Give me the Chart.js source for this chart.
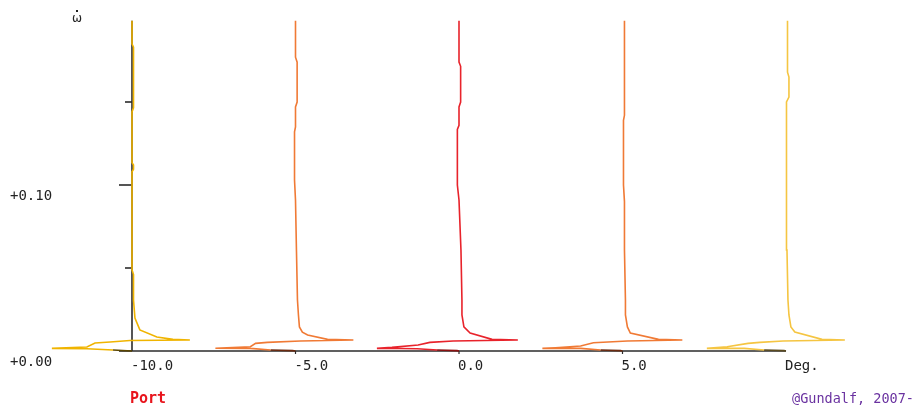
<!DOCTYPE html>
<html>
<head>
<meta charset="utf-8">
<title>Rate of turn vs rudder angle</title>
<script src="https://cdn.jsdelivr.net/npm/chart.js@4.4.1/dist/chart.umd.min.js"></script>
<style>
  html, body { margin: 0; padding: 0; background: #fff; overflow: hidden; }
  #wrap { position: relative; width: 924px; height: 409px; }
</style>
</head>
<body>
<div id="wrap"><canvas id="rotChart"></canvas></div>
<script>
/* =============================== */
/* Data: rudder angle (deg) and turn-rate tracks [offset deg, omega dot] */
/* =============================== */
const rudderAngles = [-10, -5, 0, 5, 10];

const trackM10 = [[0,0],[-0.58,0.0006],[-1.38,0.0014],[-2.45,0.0016],[-1.38,0.0024],[-1.13,0.0048],[-0.67,0.0054],[-0.06,0.0063],[1.77,0.0066],[1.25,0.0070],[0.76,0.0084],[0.24,0.0127],[0.09,0.0199],[0.046,0.0307],[0.046,0.046],[0,0.049],[0,0.108],[0.046,0.1095],[0.046,0.112],[0,0.1135],[0,0.144],[0.046,0.1465],[0.046,0.183],[0,0.185],[0,0.199]];
const trackM5 = [[0,0],[-0.09,0.0002],[-0.76,0.0006],[-1.38,0.0016],[-2.45,0.0017],[-2.1,0.0019],[-1.38,0.0026],[-1.22,0.0046],[-0.86,0.0052],[0.15,0.0060],[1.77,0.0066],[0.98,0.0070],[0.37,0.0096],[0.21,0.0114],[0.12,0.0145],[0.09,0.0217],[0.06,0.0307],[0.03,0.06],[0,0.091],[-0.03,0.103],[-0.03,0.132],[0,0.135],[0,0.147],[0.05,0.150],[0.05,0.174],[0,0.177],[0,0.199]];
const track0 = [[0,0],[-0.06,0.0002],[-0.67,0.0006],[-1.28,0.0014],[-1.83,0.0015],[-2.51,0.0016],[-2.05,0.0022],[-1.25,0.0036],[-0.89,0.0052],[-0.18,0.0060],[1.80,0.0066],[1.01,0.0070],[0.34,0.0108],[0.15,0.0145],[0.09,0.0217],[0.09,0.0307],[0.06,0.0608],[0,0.091],[-0.05,0.100],[-0.05,0.1335],[0,0.136],[0,0.147],[0.05,0.150],[0.05,0.1715],[0,0.174],[0,0.199]];
const trackP5 = [[0,0],[-0.06,0.0002],[-0.67,0.0006],[-1.28,0.0016],[-2.45,0.0016],[-2.05,0.0020],[-1.28,0.0030],[-0.89,0.0050],[0.15,0.0060],[1.83,0.0066],[1.1,0.0070],[0.24,0.0108],[0.15,0.0145],[0.09,0.0217],[0.09,0.0307],[0.06,0.0608],[0.06,0.09],[0.03,0.10],[0.03,0.139],[0.06,0.142],[0.06,0.199]];
const trackP10 = [[0,0],[-0.06,0.0002],[-0.67,0.0006],[-1.28,0.0016],[-2.42,0.0016],[-1.8,0.0026],[-1.16,0.0046],[-0.80,0.0052],[-0.09,0.0060],[1.80,0.0066],[1.1,0.0070],[0.27,0.0114],[0.15,0.0145],[0.09,0.0217],[0.06,0.0307],[0.03,0.0608],[0,0.091],[0,0.138],[0.03,0.1405],[0.03,0.150],[0.09,0.153],[0.09,0.165],[0.046,0.168],[0.046,0.199]];

const tracks = [trackM10, trackM5, track0, trackP5, trackP10];
const lineColors = ['#f0b400', '#f07a35', '#e8232b', '#f07a35', '#f5c542'];
const darkColors = ['#5a4500', '#6a2a10', '#8a1010', '#6a2a10', '#5a4a20'];

const xTicks = [-10, -5, 0, 5, 10];
const xTickLabels = ['-10.0', '-5.0', '0.0', '5.0', 'Deg.'];
const yTicks = [0, 0.1];
const yTickLabels = ['+0.00', '+0.10'];
const yMinorTicks = [0.05, 0.15];

/* =============================== */
/* Axes, ticks and labels */
/* =============================== */
const monoFont = '"DejaVu Sans Mono", "Liberation Mono", monospace';

const axesPlugin = {
    id: 'rotAxes',
    beforeDatasetsDraw(chart) {
        const ctx = chart.ctx;
        const x = chart.scales.x, y = chart.scales.y;
        const x0 = x.getPixelForValue(-10), x1 = x.getPixelForValue(10);
        const y0 = y.getPixelForValue(0), yTop = y.getPixelForValue(0.199);

        function seg(ax, ay, bx, by) {
            ctx.beginPath();
            ctx.moveTo(ax, ay);
            ctx.lineTo(bx, by);
            ctx.stroke();
        }
        ctx.save();
        ctx.strokeStyle = '#2b2b2b';
        ctx.lineWidth = 1.6;
        seg(x0, y0, x1, y0);
        seg(x0, y0, x0, yTop);
        yTicks.forEach(v => { const py = y.getPixelForValue(v); seg(x0 - 13, py, x0, py); });
        yMinorTicks.forEach(v => { const py = y.getPixelForValue(v); seg(x0 - 7, py, x0, py); });
        ctx.lineWidth = 1.2;
        xTicks.slice(1, -1).forEach(v => { const px = x.getPixelForValue(v); seg(px, y0, px, y0 + 3); });
        ctx.restore();
    },
    afterDraw(chart) {
        const ctx = chart.ctx;
        const x = chart.scales.x, y = chart.scales.y;
        const y0 = y.getPixelForValue(0);
        ctx.save();
        ctx.textBaseline = 'middle';
        ctx.textAlign = 'left';
        ctx.fillStyle = '#222';
        ctx.font = '14px ' + monoFont;
        yTicks.forEach((v, i) => ctx.fillText(yTickLabels[i], 10, y.getPixelForValue(v) + 11));
        xTicks.forEach((v, i) => ctx.fillText(xTickLabels[i], x.getPixelForValue(v) - 1, y0 + 15));

        // omega with a dot above it
        ctx.textAlign = 'center';
        ctx.font = '12px "DejaVu Sans", sans-serif';
        ctx.fillText('\u03C9', 77, 19);
        ctx.font = 'bold 15px "DejaVu Sans", sans-serif';
        ctx.fillText('\u02D9', 77, 19);

        ctx.textAlign = 'left';
        ctx.font = 'bold 15px ' + monoFont;
        ctx.fillStyle = '#e8141c';
        ctx.fillText('Port', x.getPixelForValue(-10) - 2, 399);

        ctx.font = '13.5px ' + monoFont;
        ctx.fillStyle = '#6a32a0';
        ctx.fillText('@Gundalf, 2007-', 792, 399);
        ctx.restore();
    }
};

/* =============================== */
/* Chart */
/* =============================== */
const datasets = tracks.map((track, i) => ({
    data: track.map(p => ({ x: rudderAngles[i] + p[0], y: p[1] })),
    showLine: true,
    borderColor: lineColors[i],
    borderWidth: 1.6,
    pointRadius: 0,
    tension: 0,
    clip: false,
    segment: {
        borderColor: ctx => (ctx.p1.parsed.y <= 0.0006 ? darkColors[i] : lineColors[i])
    }
}));

new Chart(document.getElementById('rotChart'), {
    type: 'scatter',
    data: { datasets: datasets },
    options: {
        responsive: true,
        maintainAspectRatio: false,
        animation: false,
        layout: { padding: { left: 132, right: 138, top: 19, bottom: 58 } },
        scales: {
            x: { type: 'linear', min: -10, max: 10, display: false },
            y: { type: 'linear', min: 0, max: 0.2, display: false }
        },
        plugins: {
            legend: { display: false },
            tooltip: { enabled: false }
        }
    },
    plugins: [axesPlugin]
});
</script>
</body>
</html>
